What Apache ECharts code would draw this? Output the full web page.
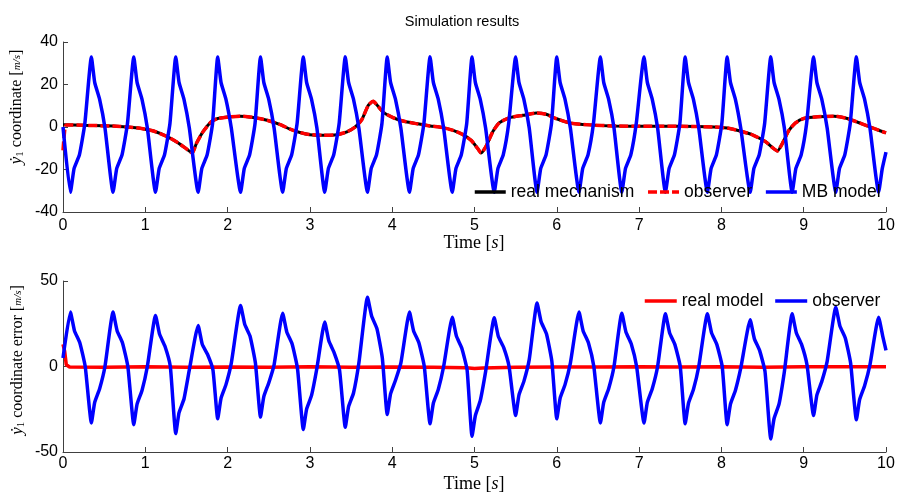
<!DOCTYPE html>
<html>
<head>
<meta charset="utf-8">
<script src="https://cdn.jsdelivr.net/npm/echarts@6/dist/echarts.min.js"></script>
<style>
  html, body { margin: 0; padding: 0; background: #fff; }
  #main { width: 898px; height: 497px; }
</style>
</head>
<body>
<div id="main"></div>
<script>
// ---- data ----
const xTicks = [0, 1, 2, 3, 4, 5, 6, 7, 8, 9, 10];

// top: real mechanism velocity [t, y]
const realMechanism = [
  [0, 1.1], [0.25, 0.8], [0.65, 0.4], [0.85, -0.2], [0.97, -0.8], [1.1, -1.9], [1.26, -4.4],
  [1.38, -7.0], [1.48, -9.7], [1.57, -12.2], [1.62, -7.8], [1.70, -2.3], [1.80, 2.4], [1.88, 4.0],
  [2.03, 4.8], [2.15, 5.1], [2.31, 4.5], [2.48, 3.2], [2.64, 1.1], [2.76, -1.0], [2.88, -2.6],
  [3.0, -3.6], [3.16, -3.9], [3.33, -3.6], [3.45, -2.3], [3.55, 0], [3.63, 3.4], [3.71, 10.2],
  [3.77, 12.1], [3.81, 10.6], [3.89, 7.0], [4.01, 4.4], [4.13, 2.8], [4.29, 1.6], [4.46, 0.5],
  [4.62, -0.3], [4.74, -1.6], [4.86, -3.6], [4.96, -6.3], [5.04, -10.2], [5.08, -12.2], [5.14, -9.1],
  [5.22, -2.4], [5.30, 1.9], [5.42, 4.3], [5.59, 5.5], [5.75, 6.6], [5.87, 6.0], [5.99, 4.0],
  [6.16, 1.9], [6.4, 1.0], [6.69, 0.5], [7.1, 0.3], [7.5, 0.3], [7.91, 0], [8.07, -0.5], [8.23, -1.9],
  [8.39, -3.9], [8.54, -7.0], [8.62, -9.7], [8.68, -11.3], [8.74, -7.8], [8.82, -1.6], [8.90, 1.9],
  [9.0, 4.0], [9.17, 4.8], [9.37, 5.1], [9.53, 4.0], [9.70, 1.6], [9.86, -0.8], [10.0, -2.8]
];

// top: observer start transient, then follows the real curve
const observerStart = [[0, -11], [0.015, -4], [0.04, 1.0]];

// top: MB model [t, y]
const mbModel = [
  [0, 0], [0.09, -30.7],
  [0.135, -19.5], [0.20, -13], [0.265, 1.5], [0.345, 33], [0.385, 21], [0.445, 13], [0.51, -0.5], [0.608, -30.7],
  [0.653, -19.5], [0.718, -13], [0.783, 1.5], [0.86, 33], [0.90, 21], [0.96, 13], [1.025, -0.5], [1.124, -30.7],
  [1.169, -19.5], [1.234, -13], [1.299, 1.5], [1.37, 33], [1.41, 21], [1.47, 13], [1.535, -0.5], [1.642, -30.7],
  [1.687, -19.5], [1.752, -13], [1.817, 1.5], [1.88, 33], [1.92, 21], [1.98, 13], [2.045, -0.5], [2.158, -30.7],
  [2.203, -19.5], [2.268, -13], [2.333, 1.5], [2.40, 33], [2.44, 21], [2.50, 13], [2.565, -0.5], [2.669, -30.7],
  [2.714, -19.5], [2.779, -13], [2.844, 1.5], [2.92, 33], [2.96, 21], [3.02, 13], [3.085, -0.5], [3.18, -30.7],
  [3.225, -19.5], [3.29, -13], [3.355, 1.5], [3.43, 33], [3.47, 21], [3.53, 13], [3.595, -0.5], [3.70, -30.7],
  [3.745, -19.5], [3.81, -13], [3.875, 1.5], [3.94, 33], [3.98, 21], [4.04, 13], [4.105, -0.5], [4.21, -30.7],
  [4.255, -19.5], [4.32, -13], [4.385, 1.5], [4.46, 33], [4.50, 21], [4.56, 13], [4.625, -0.5], [4.73, -30.7],
  [4.775, -19.5], [4.84, -13], [4.905, 1.5], [4.97, 33], [5.01, 21], [5.07, 13], [5.135, -0.5], [5.24, -30.7],
  [5.285, -19.5], [5.35, -13], [5.415, 1.5], [5.50, 33], [5.54, 21], [5.60, 13], [5.665, -0.5], [5.76, -30.7],
  [5.805, -19.5], [5.87, -13], [5.935, 1.5], [6.00, 33], [6.04, 21], [6.10, 13], [6.165, -0.5], [6.27, -30.7],
  [6.315, -19.5], [6.38, -13], [6.445, 1.5], [6.53, 33], [6.57, 21], [6.63, 13], [6.695, -0.5], [6.79, -30.7],
  [6.835, -19.5], [6.90, -13], [6.965, 1.5], [7.06, 33], [7.10, 21], [7.16, 13], [7.225, -0.5], [7.32, -30.7],
  [7.365, -19.5], [7.43, -13], [7.495, 1.5], [7.56, 33], [7.60, 21], [7.66, 13], [7.725, -0.5], [7.83, -30.7],
  [7.875, -19.5], [7.94, -13], [8.005, 1.5], [8.07, 33], [8.11, 21], [8.17, 13], [8.235, -0.5], [8.35, -30.7],
  [8.395, -19.5], [8.46, -13], [8.525, 1.5], [8.60, 33], [8.64, 21], [8.70, 13], [8.765, -0.5], [8.86, -30.7],
  [8.905, -19.5], [8.97, -13], [9.035, 1.5], [9.12, 33], [9.16, 21], [9.22, 13], [9.285, -0.5], [9.39, -30.7],
  [9.435, -19.5], [9.50, -13], [9.565, 1.5], [9.64, 33], [9.68, 21], [9.74, 13], [9.805, -0.5], [9.91, -30.7],
  [9.955, -19.5], [10.0, -11.8]
];

// bottom: real model error [t, e]
const realModelErr = [
  [0, 13], [0.02, 9], [0.04, 1], [0.08, -0.3], [0.5, -0.4], [1.0, -0.2], [1.5, -0.5], [2.0, -0.3],
  [2.5, -0.4], [3.0, -0.2], [3.5, -0.4], [4.0, -0.3], [4.5, -0.5], [4.9, -0.8], [5.0, -1.2], [5.1, -0.9],
  [5.5, -0.4], [6.0, -0.3], [6.5, -0.3], [7.0, -0.2], [7.5, -0.3], [8.0, -0.2], [8.5, -0.4], [9.0, -0.2],
  [9.5, -0.1], [10.0, -0.2]
];

// bottom: observer error [t, e]
const observerErr = [
  [0, 5], [0.09, 31.8],
  [0.14, 20.8], [0.205, 13.8], [0.27, 0], [0.345, -33], [0.385, -21], [0.445, -13], [0.51, 0], [0.608, 31.8],
  [0.658, 20.8], [0.723, 13.8], [0.788, 0], [0.86, -34], [0.90, -22], [0.96, -14], [1.025, 0], [1.124, 29.8],
  [1.174, 18.8], [1.239, 11.8], [1.304, 0], [1.37, -39.2], [1.41, -27], [1.47, -19], [1.535, -2], [1.642, 24],
  [1.692, 13], [1.757, 7], [1.822, -2], [1.88, -30.6], [1.92, -18.6], [1.98, -10.6], [2.045, 2], [2.158, 35.7],
  [2.208, 24.7], [2.273, 17.7], [2.338, 2], [2.40, -29.6], [2.44, -17.6], [2.50, -9.6], [2.565, 1], [2.669, 31.2],
  [2.719, 20.2], [2.784, 13.2], [2.849, -1], [2.92, -36.9], [2.96, -24.9], [3.02, -16.9], [3.085, -1], [3.18, 26],
  [3.23, 15], [3.295, 8], [3.36, -2], [3.43, -35.5], [3.47, -23.5], [3.53, -15.5], [3.595, 2], [3.70, 40.5],
  [3.75, 29.5], [3.815, 22], [3.88, 5], [3.94, -28.1], [3.98, -16], [4.04, -8], [4.105, 2], [4.21, 31.8],
  [4.26, 20.8], [4.325, 13.8], [4.39, 0], [4.46, -33.5], [4.50, -21.5], [4.56, -13.5], [4.625, 0], [4.73, 28.8],
  [4.78, 17.8], [4.845, 10.8], [4.91, -2], [4.97, -40.8], [5.01, -28.8], [5.07, -20], [5.135, -3], [5.24, 28.5],
  [5.29, 17.5], [5.355, 11], [5.42, 0], [5.50, -28.7], [5.54, -16.7], [5.60, -8.7], [5.665, 4], [5.76, 37.1],
  [5.81, 26.1], [5.875, 19], [5.94, 3], [6.00, -30.6], [6.04, -18.6], [6.10, -10.6], [6.165, 2], [6.27, 31.8],
  [6.32, 20.8], [6.385, 13.8], [6.45, 0], [6.53, -33], [6.57, -21], [6.63, -13], [6.695, 0], [6.79, 31.2],
  [6.84, 20.2], [6.905, 13.2], [6.97, 0], [7.06, -33], [7.10, -21], [7.16, -13], [7.225, 0], [7.32, 30.8],
  [7.37, 19.8], [7.435, 12.8], [7.50, 0], [7.56, -33.5], [7.60, -21.5], [7.66, -13.5], [7.725, 0], [7.83, 30.8],
  [7.88, 19.8], [7.945, 12.8], [8.01, 0], [8.07, -34], [8.11, -22], [8.17, -14], [8.235, -1], [8.35, 27.3],
  [8.40, 16.3], [8.465, 9.3], [8.53, -3], [8.60, -42.4], [8.64, -30.4], [8.70, -22], [8.765, -3], [8.86, 30.8],
  [8.91, 19.8], [8.975, 12.8], [9.04, 1], [9.12, -28.7], [9.16, -16.7], [9.22, -8.7], [9.285, 3], [9.39, 34.7],
  [9.44, 23.7], [9.505, 16.7], [9.57, 2], [9.64, -31.2], [9.68, -19.2], [9.74, -11.2], [9.805, 1], [9.91, 28.8],
  [9.96, 17.8], [10.0, 9.4]
];

// ---- chart ----
var chartDom = document.getElementById('main');
var myChart = echarts.init(chartDom, null, { renderer: 'canvas' });

const sans = 'Liberation Sans, Arial, sans-serif';
const serif = 'Liberation Serif, Times New Roman, serif';
const axisColor = '#404040';

function xAxisFor(gridIndex, margin) {
  return {
    type: 'value', gridIndex: gridIndex, min: 0, max: 10, interval: 1,
    axisLine: { show: true, onZero: false, lineStyle: { color: axisColor, width: 1 } },
    axisTick: { show: true, inside: true, length: 5, lineStyle: { color: axisColor } },
    axisLabel: { color: '#000', fontSize: 16, fontFamily: sans, margin: margin,
      formatter: v => xTicks.includes(v) ? String(v) : '' },
    splitLine: { show: false }
  };
}
function yAxisFor(gridIndex, min, max, interval) {
  return {
    type: 'value', gridIndex: gridIndex, min: min, max: max, interval: interval,
    axisLine: { show: true, onZero: false, lineStyle: { color: axisColor, width: 1 } },
    axisTick: { show: true, inside: true, length: 5, lineStyle: { color: axisColor } },
    axisLabel: { color: '#000', fontSize: 16, fontFamily: sans, margin: 5 },
    splitLine: { show: false }
  };
}

const yLabelRich = {
  a: { fontFamily: serif, fontSize: 17, fontStyle: 'italic' },
  s: { fontFamily: serif, fontSize: 11, verticalAlign: 'bottom', padding: [6, 0, 0, 0] },
  f: { fontFamily: serif, fontSize: 11, fontStyle: 'italic' }
};

var option = {
  animation: false,
  backgroundColor: '#fff',
  title: {
    text: 'Simulation results', left: 457, top: 9, textAlign: 'center',
    textStyle: { fontSize: 14.5, fontWeight: 'normal', fontFamily: sans, color: '#000' }
  },
  grid: [
    { left: 63, right: 12, top: 42, height: 170 },
    { left: 63, right: 12, top: 281, height: 171 }
  ],
  xAxis: [xAxisFor(0, 6), xAxisFor(1, 4)],
  yAxis: [yAxisFor(0, -40, 40, 20), yAxisFor(1, -50, 50, 50)],
  legend: [
    {
      data: ['real mechanism', 'observer', 'MB model'],
      left: 473, top: 182, padding: 0, itemGap: 12, itemWidth: 31, itemHeight: 14,
      itemStyle: { opacity: 0 }, lineStyle: { width: 3.5 },
      textStyle: { fontSize: 17.5, fontFamily: sans, color: '#000', lineHeight: 20 }
    },
    {
      data: ['real model', 'observer '],
      left: 643, top: 291, padding: 0, itemGap: 10, itemWidth: 32, itemHeight: 14,
      itemStyle: { opacity: 0 }, lineStyle: { width: 3.5 },
      textStyle: { fontSize: 17.5, fontFamily: sans, color: '#000', lineHeight: 20 }
    }
  ],
  graphic: [
    {
      type: 'text', x: 17, y: 107, rotation: Math.PI / 2,
      style: {
        text: '{a|ẏ}{s|1} coordinate [{f|m/s}]',
        align: 'center', verticalAlign: 'middle',
        font: '16px ' + serif, fill: '#000', rich: yLabelRich
      }
    },
    {
      type: 'text', x: 18, y: 360, rotation: Math.PI / 2,
      style: {
        text: '{a|ẏ}{s|1} coordinate error [{f|m/s}]',
        align: 'center', verticalAlign: 'middle',
        font: '16px ' + serif, fill: '#000', rich: yLabelRich
      }
    },
    {
      type: 'text', x: 474, y: 243,
      style: { text: 'Time [{i|s}]', align: 'center', verticalAlign: 'middle', font: '18px ' + serif, fill: '#000',
        rich: { i: { fontFamily: serif, fontSize: 18, fontStyle: 'italic' } } }
    },
    {
      type: 'text', x: 474, y: 484,
      style: { text: 'Time [{i|s}]', align: 'center', verticalAlign: 'middle', font: '18px ' + serif, fill: '#000',
        rich: { i: { fontFamily: serif, fontSize: 18, fontStyle: 'italic' } } }
    }
  ],
  series: [
    {
      name: 'real mechanism', type: 'line', xAxisIndex: 0, yAxisIndex: 0,
      data: realMechanism, showSymbol: false, symbol: 'none', smooth: 0.2,
      lineStyle: { color: '#000', width: 3 }, itemStyle: { color: '#000' }
    },
    {
      name: 'observer', type: 'line', xAxisIndex: 0, yAxisIndex: 0,
      data: observerStart.concat(realMechanism.slice(1)), showSymbol: false, symbol: 'none', smooth: 0.2,
      lineStyle: { color: '#ff0000', width: 3.5, type: [9, 3] }, itemStyle: { color: '#ff0000' }
    },
    {
      name: 'MB model', type: 'line', xAxisIndex: 0, yAxisIndex: 0,
      data: mbModel, showSymbol: false, symbol: 'none', smooth: 0.15,
      lineStyle: { color: '#0000ff', width: 3.5 }, itemStyle: { color: '#0000ff' }
    },
    {
      name: 'real model', type: 'line', xAxisIndex: 1, yAxisIndex: 1,
      data: realModelErr, showSymbol: false, symbol: 'none',
      lineStyle: { color: '#ff0000', width: 3.5 }, itemStyle: { color: '#ff0000' }
    },
    {
      name: 'observer ', type: 'line', xAxisIndex: 1, yAxisIndex: 1,
      data: observerErr, showSymbol: false, symbol: 'none', smooth: 0.15,
      lineStyle: { color: '#0000ff', width: 3.5 }, itemStyle: { color: '#0000ff' }
    }
  ]
};

option && myChart.setOption(option);
</script>
</body>
</html>
